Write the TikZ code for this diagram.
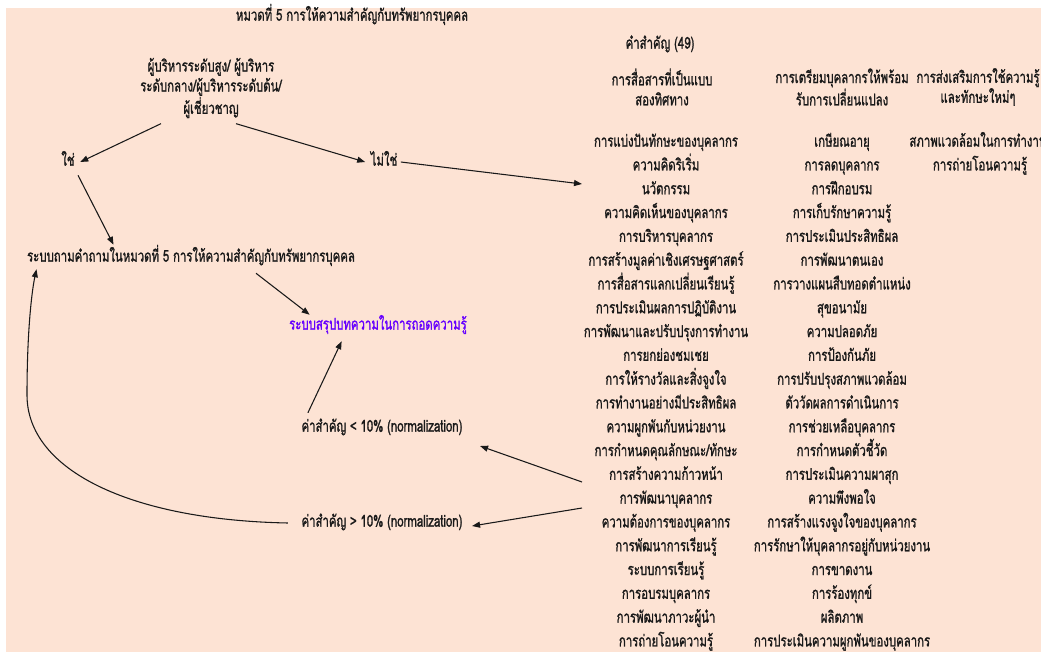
\documentclass[tikz,border=0pt]{standalone}
\usepackage{fontspec}
\usetikzlibrary{arrows.meta,calc}
\newfontfamily\thai[Script=Thai,FakeStretch=0.70,FakeBold=1.2]{Loma}
\definecolor{peach}{RGB}{253,227,212}
\definecolor{violet}{RGB}{102,0,255}
\definecolor{ink}{RGB}{25,25,25}
\begin{document}
\begin{tikzpicture}[x=0.75pt,y=-0.75pt,
  txt/.style={font=\thai\fontsize{12.2}{14}\selectfont,inner sep=1pt,text=ink,
    text height=8.5pt,text depth=3pt},
  multi/.style={align=center,inner sep=1pt,text=ink,font=\thai\fontsize{12.2}{15}\selectfont},
  conn/.style={line width=0.8pt,draw=ink,-{Triangle[length=6pt,width=4.5pt]}}]
% page and background panel
\useasboundingbox (0,0) rectangle (1041,652);
\fill[white] (0,0) rectangle (1041,652);
\fill[peach] (6,8) rectangle (1041,652);

% headings
\node[txt] (title) at (352,17) {หมวดที่ 5 การให้ความสำคัญกับทรัพยากรบุคคล};
\node[txt] (kw) at (660,45) {คำสำคัญ (49)};
\node[multi] (mgr) at (211,88) {ผู้บริหารระดับสูง/ ผู้บริหาร\\ระดับกลาง/ผู้บริหารระดับต้น/\\ผู้เชี่ยวชาญ};

% decision and process nodes
\node[txt] (yes) at (68,162) {ใช่};
\node[txt] (no) at (384,162) {ไม่ใช่};
\node[txt] (ask) at (191,258) {ระบบถามคำถามในหมวดที่ 5 การให้ความสำคัญกับทรัพยากรบุคคล};
\node[txt,text=violet] (sum) at (378,326) {ระบบสรุปบทความในการถอดความรู้};
\node[txt] (lt) at (382,428) {ค่าสำคัญ < 10\% (normalization)};
\node[txt] (gt) at (382,523) {ค่าสำคัญ > 10\% (normalization)};

% keyword group headers
\node[multi] (h1) at (662,87) {การสื่อสารที่เป็นแบบ\\สองทิศทาง};
\node[multi] (h2) at (842,87) {การเตรียมบุคลากรให้พร้อม\\รับการเปลี่ยนแปลง};
\node[multi] (h3) at (978,87) {การส่งเสริมการใช้ความรู้\\และทักษะใหม่ๆ};

% keyword lists
\foreach \w [count=\i] in {การแบ่งปันทักษะของบุคลากร,ความคิดริเริ่ม,นวัตกรรม,ความคิดเห็นของบุคลากร,การบริหารบุคลากร,การสร้างมูลค่าเชิงเศรษฐศาสตร์,การสื่อสารแลกเปลี่ยนเรียนรู้,การประเมินผลการปฏิบัติงาน,การพัฒนาและปรับปรุงการทำงาน,การยกย่องชมเชย,การให้รางวัลและสิ่งจูงใจ,การทำงานอย่างมีประสิทธิผล,ความผูกพันกับหน่วยงาน,การกำหนดคุณลักษณะ/ทักษะ,การสร้างความก้าวหน้า,การพัฒนาบุคลากร,ความต้องการของบุคลากร,การพัฒนาการเรียนรู้,ระบบการเรียนรู้,การอบรมบุคลากร,การพัฒนาภาวะผู้นำ,การถ่ายโอนความรู้}
  \node[txt] (a\i) at (666,{143+23.8*(\i-1)}) {\w};
\foreach \w [count=\i] in {เกษียณอายุ,การลดบุคลากร,การฝึกอบรม,การเก็บรักษาความรู้,การประเมินประสิทธิผล,การพัฒนาตนเอง,การวางแผนสืบทอดตำแหน่ง,สุขอนามัย,ความปลอดภัย,การป้องกันภัย,การปรับปรุงสภาพแวดล้อม,ตัววัดผลการดำเนินการ,การช่วยเหลือบุคลากร,การกำหนดตัวชี้วัด,การประเมินความผาสุก,ความพึงพอใจ,การสร้างแรงจูงใจของบุคลากร,การรักษาให้บุคลากรอยู่กับหน่วยงาน,การขาดงาน,การร้องทุกข์,ผลิตภาพ,การประเมินความผูกพันของบุคลากร}
  \node[txt] (b\i) at (842,{143+23.8*(\i-1)}) {\w};
\node[txt] (c1) at (978,143) {สภาพแวดล้อมในการทำงาน};
\node[txt] (c2) at (980,166.8) {การถ่ายโอนความรู้};

% loose ends at the keyword lists
\coordinate (listin) at (582,184);
\coordinate (listlt) at (582,482);
\coordinate (listgt) at (582,508);

% connectors
\draw[conn] ($(mgr.south)+(-50,4)$) -- ($(yes.east)+(4,0)$);
\draw[conn] ($(mgr.south)+(25,4)$) -- ($(no.west)+(-4,0)$);
\draw[conn] ($(no.east)+(2,0)$) -- (listin);
\draw[conn] ($(yes.south)+(10,4)$) -- ($(ask.north west)+(88,-4)$);
\draw[conn] ($(ask.south)+(65,6)$) -- ($(sum.north west)+(22,-2)$);
\draw[conn] ($(lt.north west)+(8,-6)$) -- ($(sum.south west)+(54,6)$);
\draw[conn] (listlt) -- ($(lt.east)+(16,18)$);
\draw[conn] (listgt) -- ($(gt.east)+(8,3)$);
\draw[conn] ($(gt.west)+(-12,0)$) .. controls (130,520) and (27,470) .. (27,395)
  .. controls (27,330) and (32,290) .. ($(ask.south west)+(11,2)$);
\end{tikzpicture}
\end{document}
